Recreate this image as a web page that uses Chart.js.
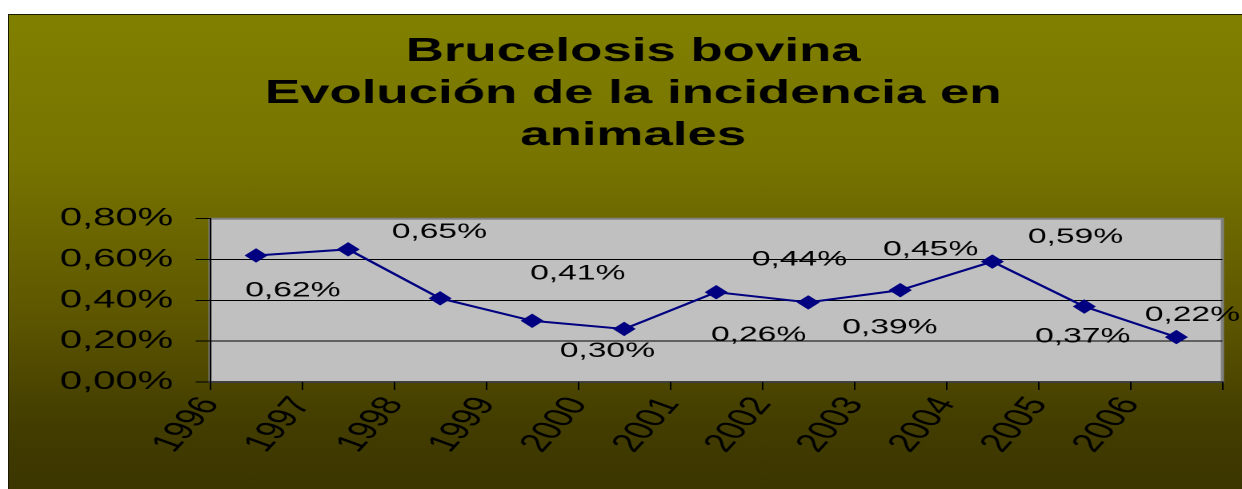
<!DOCTYPE html>
<html>
<head>
<meta charset="utf-8">
<script src="https://cdn.jsdelivr.net/npm/chart.js@4/dist/chart.umd.min.js"></script>
<style>
    html, body { margin: 0; padding: 0; background: #fff; overflow: hidden; }
    #box {
        position: absolute; left: 8px; top: 14px; width: 1240px; height: 480px;
        border: 1px solid #1a1a00; box-sizing: border-box;
        background: linear-gradient(to bottom, #808000 0%, #777400 30%, #5e5700 62%, #433d00 85%, #3a3500 100%);
    }
    /* the source picture is stretched sideways, so the chart is drawn narrow and scaled */
    #wrap {
        position: absolute; left: 0; top: 0; width: 776px; height: 489px;
        transform: scale(1.6005, 1); transform-origin: 0 0;
    }
</style>
</head>
<body>
<div id="box"></div>
<div id="wrap"><canvas id="chart"></canvas></div>
<script>
// Chart data
const years = ['1996', '1997', '1998', '1999', '2000', '2001', '2002', '2003', '2004', '2005', '2006'];
const incidence = [0.62, 0.65, 0.41, 0.30, 0.26, 0.44, 0.39, 0.45, 0.59, 0.37, 0.22];
const valueLabels = ['0,62%', '0,65%', '0,41%', '0,30%', '0,26%', '0,44%', '0,39%', '0,45%', '0,59%', '0,37%', '0,22%'];
const titleLines = ['Brucelosis bovina', 'Evolución de la incidencia en', 'animales'];

// Where each value label sits relative to its point (as placed in the original)
const labelDx = [23, 57, 86, 47, 84, 52, 51, 19, 52, -1, 10];
const labelDy = [35, -17, -24.5, 30.5, 6.5, -32.5, 25.5, -40.5, -24.5, 30, -22];

const FONT = '"Liberation Sans", Arial, sans-serif';

/**
 * Gray plot area with its frame
 */
const plotBackground = {
    id: 'plotBackground',
    beforeDraw(chart) {
        const { ctx, chartArea: a } = chart;
        ctx.save();
        ctx.fillStyle = '#c0c0c0';
        ctx.fillRect(a.left, a.top, a.right - a.left, a.bottom - a.top);
        ctx.strokeStyle = '#808080';
        ctx.lineWidth = 2;
        ctx.strokeRect(a.left, a.top, a.right - a.left, a.bottom - a.top);
        ctx.restore();
    }
};

/**
 * Value labels next to the points
 */
const valueLabelPlugin = {
    id: 'valueLabels',
    afterDatasetsDraw(chart) {
        const { ctx } = chart;
        const meta = chart.getDatasetMeta(0);
        ctx.save();
        ctx.font = `21px ${FONT}`;
        ctx.fillStyle = '#000';
        ctx.textAlign = 'center';
        ctx.textBaseline = 'middle';
        meta.data.forEach((pt, i) => {
            ctx.fillText(valueLabels[i], pt.x + labelDx[i], pt.y + labelDy[i]);
        });
        ctx.restore();
    }
};

new Chart(document.getElementById('chart'), {
    type: 'line',
    data: {
        labels: years,
        datasets: [{
            data: incidence,
            borderColor: '#000080',
            backgroundColor: '#000080',
            borderWidth: 2,
            tension: 0,
            pointStyle: 'rectRot',
            pointRadius: 6.5,
            pointBorderWidth: 1
        }]
    },
    options: {
        responsive: true,
        maintainAspectRatio: false,
        devicePixelRatio: 2,
        animation: false,
        layout: { padding: { left: 27.5, right: 12.25, top: 0, bottom: 0 } },
        plugins: {
            legend: { display: false },
            tooltip: { enabled: false },
            title: {
                display: true,
                text: titleLines,
                color: '#000',
                font: { family: FONT, size: 33, weight: 'bold', lineHeight: 1.27 },
                padding: { top: 31, bottom: 62 }
            }
        },
        scales: {
            x: {
                type: 'category',
                offset: true,
                display: false
            },
            x2: {
                type: 'category',
                labels: years.concat(['']),
                offset: false,
                position: 'bottom',
                afterFit: s => {
                    s.height = 107;
                    s.paddingRight = 0;
                    s.paddingLeft = 0;
                },
                grid: {
                    drawOnChartArea: false,
                    tickLength: 8,
                    color: '#000'
                },
                border: { display: true, color: '#000', width: 1 },
                ticks: {
                    autoSkip: false,
                    minRotation: 60,
                    maxRotation: 60,
                    padding: 2,
                    color: '#000',
                    font: { family: FONT, size: 26 }
                }
            },
            y: {
                min: 0,
                max: 0.8,
                afterFit: s => { s.width = 103.75; },
                grid: {
                    color: ctx => (ctx.tick && ctx.tick.value >= 0.79 ? '#808080' : '#000'),
                    tickColor: '#000',
                    tickLength: 9
                },
                border: { display: true, color: '#000', width: 1 },
                ticks: {
                    stepSize: 0.2,
                    padding: 14,
                    color: '#000',
                    font: { family: FONT, size: 25 },
                    callback: v => v.toFixed(2).replace('.', ',') + '%'
                }
            }
        }
    },
    plugins: [plotBackground, valueLabelPlugin]
});
</script>
</body>
</html>
